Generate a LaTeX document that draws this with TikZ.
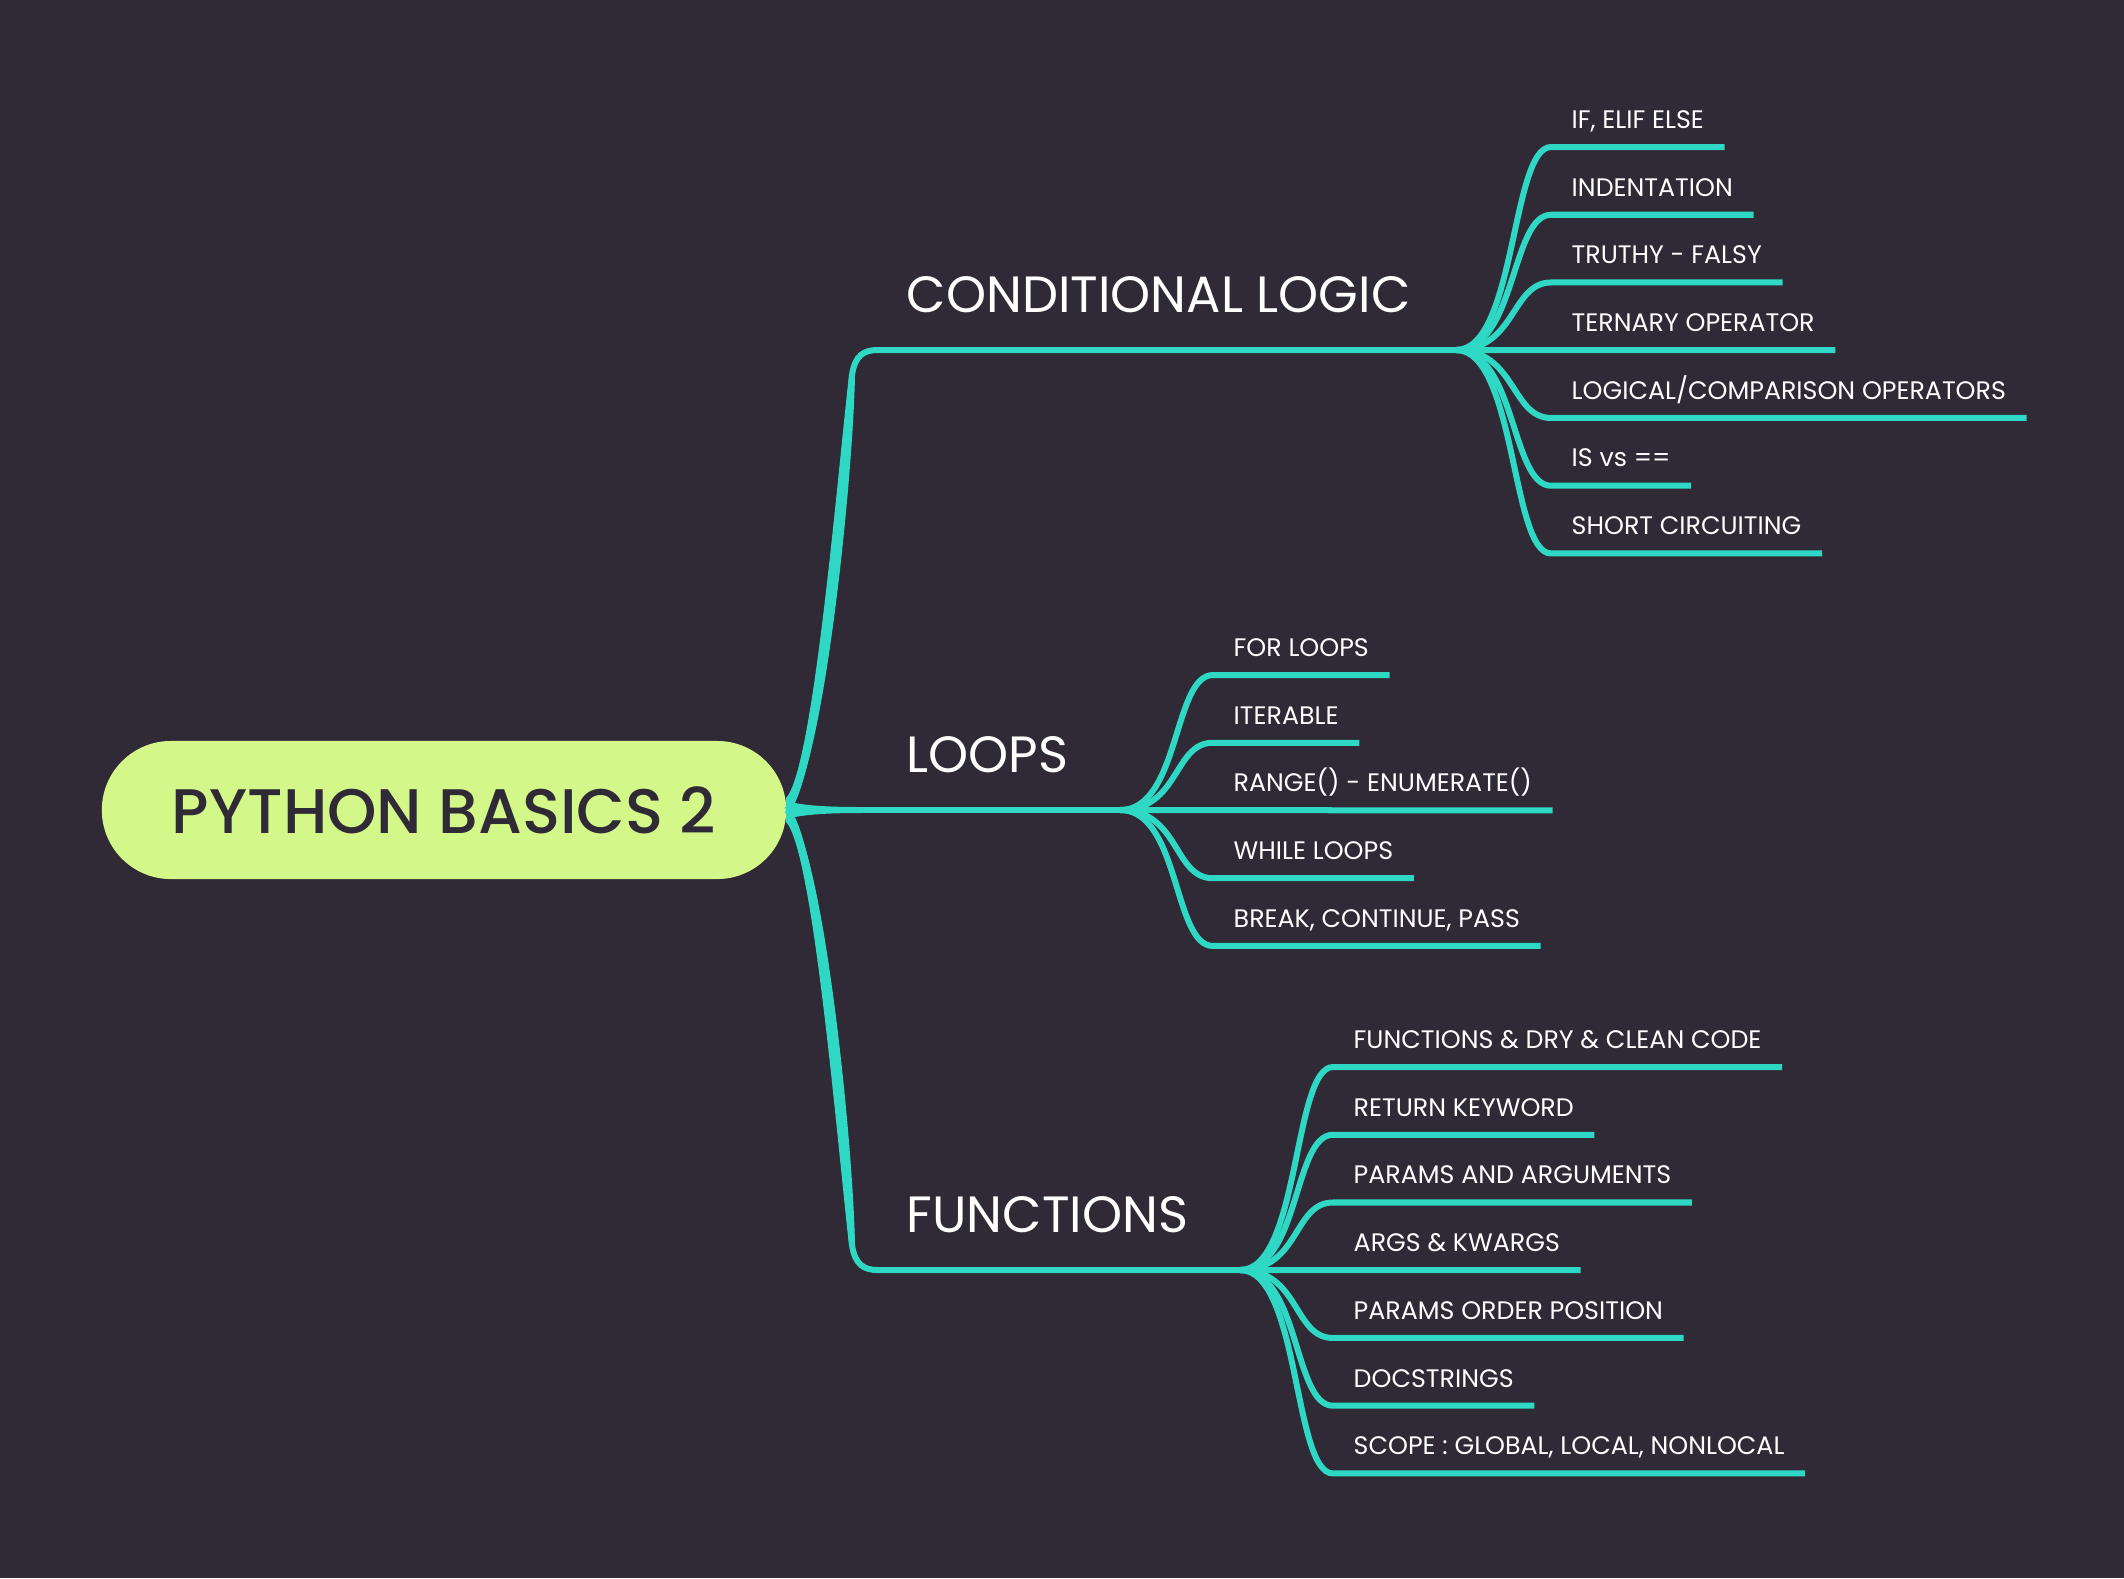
\documentclass[tikz,border=0pt]{standalone}
\usepackage{fontspec}
\setmainfont{Poppins}
\newfontfamily\rootfont{Poppins Medium}
\usetikzlibrary{positioning}
\definecolor{bgdark}{HTML}{2F2A35}
\definecolor{mintline}{HTML}{2FD8C4}
\definecolor{limefill}{HTML}{D4F78A}
\definecolor{inkdark}{HTML}{2F2A35}
\tikzstyle{rootbox} = [rectangle, rounded corners=0.69cm, minimum width=6.84cm, minimum height=1.38cm, fill=limefill, text=inkdark, font=\rootfont\fontsize{17.9}{20}\selectfont]
\tikzstyle{topic} = [anchor=south west, inner xsep=0.28cm, inner ysep=0.37cm, text depth=0pt, text=white, font=\fontsize{14.5}{17}\selectfont]
\tikzstyle{subtopic} = [anchor=south west, inner xsep=0.2cm, inner ysep=0.18cm, text depth=0pt, text=white, font=\fontsize{7.2}{9}\selectfont]
\tikzstyle{mainline} = [draw=mintline, line width=0.06cm]
\tikzstyle{subline} = [draw=mintline, line width=0.06cm]
\tikzstyle{flare} = [fill=mintline]
\tikzset{nextsub/.style={below=0.677cm of #1.south west, anchor=south west}}

\begin{document}
\begin{tikzpicture}[x=0.01cm, y=-0.01cm]
	\fill[bgdark] (0,0) rectangle (2124,1578);
	% root and main topics
	\node (root) [rootbox] at (444,810) {PYTHON BASICS 2};
	\node (cond) [topic] at (878,350) {CONDITIONAL LOGIC};
	\node (loops) [topic] at (878,810) {LOOPS};
	\node (func) [topic] at (878,1270) {FUNCTIONS};
	\coordinate (cbend) at (852,375);
	\coordinate (fbend) at (852,1245);
	\coordinate (clhub) at (1456,350);
	\coordinate (lphub) at (1120,810);
	\coordinate (fnhub) at (1240,1270);
	% main branches, thicker towards the root
	\fill[flare] (786,798) .. controls (813,770) and (837,480) .. (849,375) -- (855,375) .. controls (853,480) and (823,780) .. (786,814) -- cycle;
	\fill[flare] (786,822) .. controls (813,850) and (837,1140) .. (849,1245) -- (855,1245) .. controls (853,1140) and (823,840) .. (786,806) -- cycle;
	\fill[flare] (786,801) .. controls (805,806) and (830,807) .. (862,807) -- (862,813) .. controls (830,813) and (805,814) .. (786,819) -- cycle;
	\draw[mainline] (root.east) .. controls (818,775) and (845,480) .. (cbend) .. controls +(3,-20) and +(-14,0) .. (cond.south west) -- (clhub);
	\draw[mainline] (root.east) -- (lphub);
	\draw[mainline] (root.east) .. controls (818,845) and (845,1140) .. (fbend) .. controls +(3,20) and +(-14,0) .. (func.south west) -- (fnhub);
	% conditional logic
	\node (ifelse) [subtopic] at (1551,147) {IF, ELIF ELSE};
	\node (indent) [subtopic, nextsub=ifelse] {INDENTATION};
	\node (truthy) [subtopic, nextsub=indent] {TRUTHY - FALSY};
	\node (ternary) [subtopic, nextsub=truthy] {TERNARY OPERATOR};
	\node (logical) [subtopic, nextsub=ternary] {LOGICAL/COMPARISON OPERATORS};
	\node (isvs) [subtopic, nextsub=logical] {IS vs ==};
	\node (short) [subtopic, nextsub=isvs] {SHORT CIRCUITING};
	\draw[subline] (clhub) .. controls +(60,0) and +(-40,0) .. (ifelse.south west) -- (ifelse.south east);
	\draw[subline] (clhub) .. controls +(60,0) and +(-40,0) .. (indent.south west) -- (indent.south east);
	\draw[subline] (clhub) .. controls +(60,0) and +(-40,0) .. (truthy.south west) -- (truthy.south east);
	\draw[subline] (clhub) -- (ternary.south east);
	\draw[subline] (clhub) .. controls +(60,0) and +(-40,0) .. (logical.south west) -- (logical.south east);
	\draw[subline] (clhub) .. controls +(60,0) and +(-40,0) .. (isvs.south west) -- (isvs.south east);
	\draw[subline] (clhub) .. controls +(60,0) and +(-40,0) .. (short.south west) -- (short.south east);
	% loops
	\node (forloop) [subtopic] at (1213,675) {FOR LOOPS};
	\node (iter) [subtopic, nextsub=forloop] {ITERABLE};
	\node (range) [subtopic, nextsub=iter] {RANGE() - ENUMERATE()};
	\node (while) [subtopic, nextsub=range] {WHILE LOOPS};
	\node (brk) [subtopic, nextsub=while] {BREAK, CONTINUE, PASS};
	\draw[subline] (lphub) .. controls +(60,0) and +(-40,0) .. (forloop.south west) -- (forloop.south east);
	\draw[subline] (lphub) .. controls +(60,0) and +(-40,0) .. (iter.south west) -- (iter.south east);
	\draw[subline] (lphub) -- (range.south east);
	\draw[subline] (lphub) .. controls +(60,0) and +(-40,0) .. (while.south west) -- (while.south east);
	\draw[subline] (lphub) .. controls +(60,0) and +(-40,0) .. (brk.south west) -- (brk.south east);
	% functions
	\node (dry) [subtopic] at (1333,1067) {FUNCTIONS \& DRY \& CLEAN CODE};
	\node (ret) [subtopic, nextsub=dry] {RETURN KEYWORD};
	\node (params) [subtopic, nextsub=ret] {PARAMS AND ARGUMENTS};
	\node (kwargs) [subtopic, nextsub=params] {ARGS \& KWARGS};
	\node (order) [subtopic, nextsub=kwargs] {PARAMS ORDER POSITION};
	\node (docs) [subtopic, nextsub=order] {DOCSTRINGS};
	\node (scope) [subtopic, nextsub=docs] {SCOPE : GLOBAL, LOCAL, NONLOCAL};
	\draw[subline] (fnhub) .. controls +(60,0) and +(-40,0) .. (dry.south west) -- (dry.south east);
	\draw[subline] (fnhub) .. controls +(60,0) and +(-40,0) .. (ret.south west) -- (ret.south east);
	\draw[subline] (fnhub) .. controls +(60,0) and +(-40,0) .. (params.south west) -- (params.south east);
	\draw[subline] (fnhub) -- (kwargs.south east);
	\draw[subline] (fnhub) .. controls +(60,0) and +(-40,0) .. (order.south west) -- (order.south east);
	\draw[subline] (fnhub) .. controls +(60,0) and +(-40,0) .. (docs.south west) -- (docs.south east);
	\draw[subline] (fnhub) .. controls +(60,0) and +(-40,0) .. (scope.south west) -- (scope.south east);
\end{tikzpicture}
\end{document}
